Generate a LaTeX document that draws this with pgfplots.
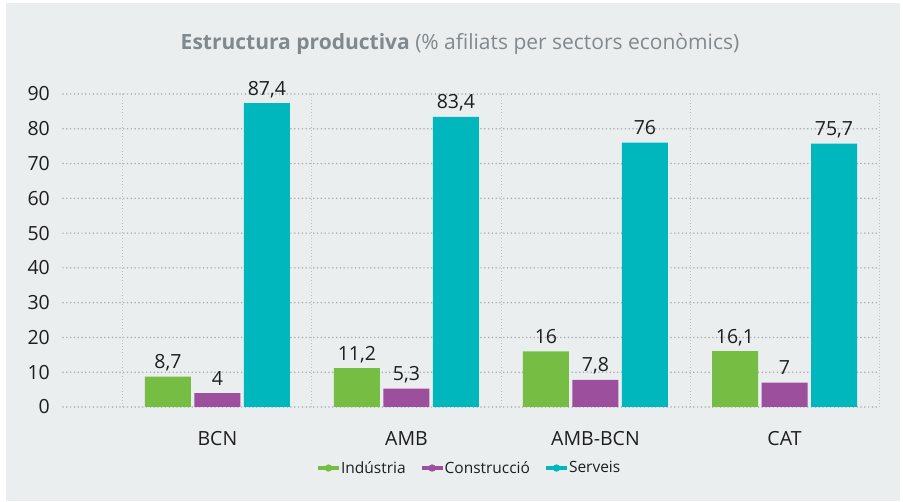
\documentclass[border=0pt]{standalone}
\usepackage{pgfplots}
\pgfplotsset{compat=1.18}
\usepackage{fontspec}
\setmainfont{Open Sans}

\definecolor{panel}{HTML}{EBEEEF}
\definecolor{titlegray}{HTML}{7F898E}
\definecolor{txt}{HTML}{1E1E1E}
\definecolor{cgreen}{HTML}{76BE43}
\definecolor{cpurple}{HTML}{9C4F9C}
\definecolor{cteal}{HTML}{00B7BD}
\definecolor{gridh}{HTML}{A9AEB2}
\definecolor{gridv}{HTML}{BDC1C4}

\pgfplotsset{
  legimg/.style={legend image code/.code={
      \fill (0bp,-2.3bp) rectangle (21bp,2.3bp);
      \fill (10.5bp,0bp) circle (3.7bp);}},
}

\begin{document}
\begin{tikzpicture}
  % panel
  \fill[white] (0bp,0bp) rectangle (903bp,502bp);
  \fill[panel] (6bp,1bp) rectangle (900bp,499bp);
  \node[anchor=base, text=titlegray, font=\fontsize{21bp}{24bp}\selectfont, inner sep=0pt]
    at (460bp,452bp) {\textbf{Estructura productiva} (\% afiliats per sectors econòmics)};

  \begin{axis}[
    at={(63bp,95bp)}, anchor=south west,
    scale only axis, width=816bp, height=313bp,
    xmin=-0.817, xmax=3.5, ymin=0, ymax=90,
    ybar=3.5bp, bar width=46bp,
    axis line style={draw=none},
    tick style={draw=none},
    xtick={0,1,2,3},
    xticklabels={BCN,AMB,AMB-BCN,CAT},
    minor xtick={-0.5,0.5,1.5,2.5,3.5},
    xminorgrids=true,
    minor grid style={gridv, line width=0.9bp, dash pattern=on 1bp off 2bp},
    ytick={0,10,...,90},
    ymajorgrids=true,
    major grid style={gridh, line width=1.7bp, line cap=round, dash pattern=on 0bp off 3.8bp},
    ticklabel style={text=txt, font=\fontsize{19.5bp}{22bp}\selectfont},
    /pgf/number format/assume math mode=true,
    yticklabel style={anchor=east, inner sep=0pt, xshift=-13bp},
    xticklabel style={anchor=base, inner sep=0pt, yshift=-34bp},
    nodes near coords,
    /pgf/number format/use comma,
    every node near coord/.append style={text=txt, font=\fontsize{19.5bp}{22bp}\selectfont,
      anchor=base, inner sep=0pt, yshift=8bp},
    clip=false,
    legend style={at={(axis description cs:0.499,-0.195)}, anchor=center,
      draw=none, fill=none, legend columns=3,
      font=\fontsize{15.5bp}{18bp}\selectfont, text=txt,
      /tikz/every even column/.append style={column sep=14bp}},
  ]
    \addplot[fill=cgreen, draw=none, legimg] coordinates {(0,8.7) (1,11.2) (2,16) (3,16.1)};
    \addplot[fill=cpurple, draw=none, legimg] coordinates {(0,4) (1,5.3) (2,7.8) (3,7)};
    \addplot[fill=cteal, draw=none, legimg] coordinates {(0,87.4) (1,83.4) (2,76) (3,75.7)};
    \legend{Indústria,Construcció,Serveis}
  \end{axis}
\end{tikzpicture}
\end{document}
